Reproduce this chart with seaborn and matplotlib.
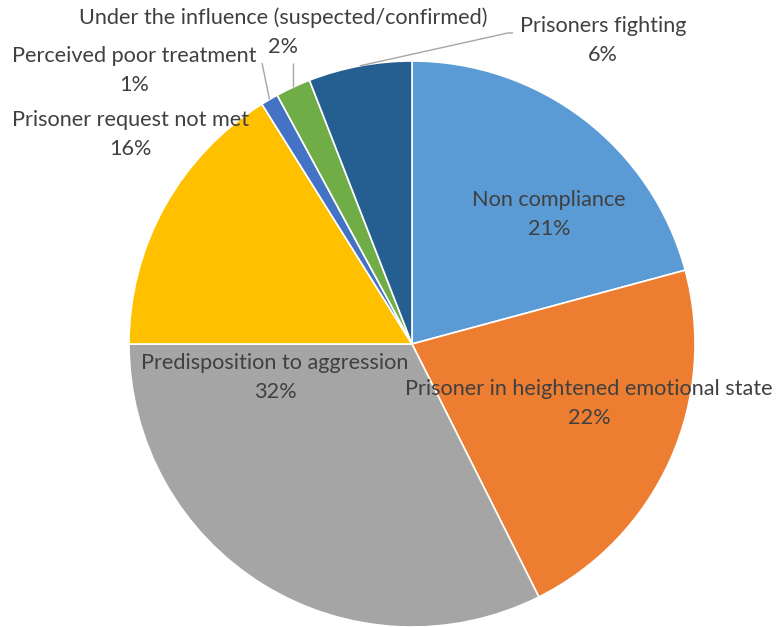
import matplotlib

matplotlib.use("Agg")
import matplotlib.pyplot as plt
import numpy as np
import seaborn as sns

sns.set_theme(style="white")
plt.rcParams["font.family"] = ["Lato", "DejaVu Sans"]

# Data (shares of incidents, percent)
categories = [
    "Non compliance",
    "Prisoner in heightened emotional state",
    "Predisposition to aggression",
    "Prisoner request not met",
    "Perceived poor treatment",
    "Under the influence (suspected/confirmed)",
    "Prisoners fighting",
]
shares = [20.8, 21.8, 32.4, 16.1, 1.0, 2.0, 5.9]
colors = ["#5B9BD5", "#ED7D31", "#A5A5A5", "#FFC000", "#4472C4", "#70AD47", "#255E91"]

# label text centres (data units, pie radius = 1)
label_pos = [
    (0.484, 0.458),
    (0.625, -0.212),
    (-0.484, -0.117),
    (-0.996, 0.740),
    (-0.982, 0.966),
    (-0.456, 1.101),
    (0.675, 1.072),
]
# leader line start points on the label side (None = no leader)
leader_path = [
    None,
    None,
    None,
    None,
    [(-0.530, 0.993)],
    "vertical",
    [(0.357, 1.099), (0.339, 1.099)],
]

W, H = 782, 627
cx, cy, R = 412, 344, 283
line_gap = 29 / R

fig = plt.figure(figsize=(W / 100, H / 100), dpi=100)
ax = fig.add_axes([0, 0, 1, 1])

wedges, _ = ax.pie(
    shares,
    colors=colors,
    startangle=90,
    counterclock=False,
    radius=1.0,
    wedgeprops=dict(edgecolor="white", linewidth=1.2),
)

total = sum(shares)
for w, cat, val, (tx, ty), path in zip(wedges, categories, shares, label_pos, leader_path):
    style = dict(ha="center", va="center", fontsize=15.6, color="#404040")
    ax.text(tx, ty + line_gap / 2, cat, **style)
    ax.text(tx, ty - line_gap / 2, f"{val / total * 100:.0f}%", **style)
    if path is None:
        continue
    ang = np.deg2rad((w.theta1 + w.theta2) / 2)
    ex, ey = np.cos(ang), np.sin(ang)
    if path == "vertical":
        xs, ys = [ex, ex], [0.993, ey]
    else:
        xs = [p[0] for p in path] + [ex]
        ys = [p[1] for p in path] + [ey]
    ax.plot(xs, ys, color="#A6A6A6", lw=1, solid_capstyle="butt")

ax.set_xlim(-cx / R, (W - cx) / R)
ax.set_ylim(-(H - cy) / R, cy / R)
ax.set_aspect("equal")
ax.axis("off")

fig.savefig("out.png", dpi=100)
